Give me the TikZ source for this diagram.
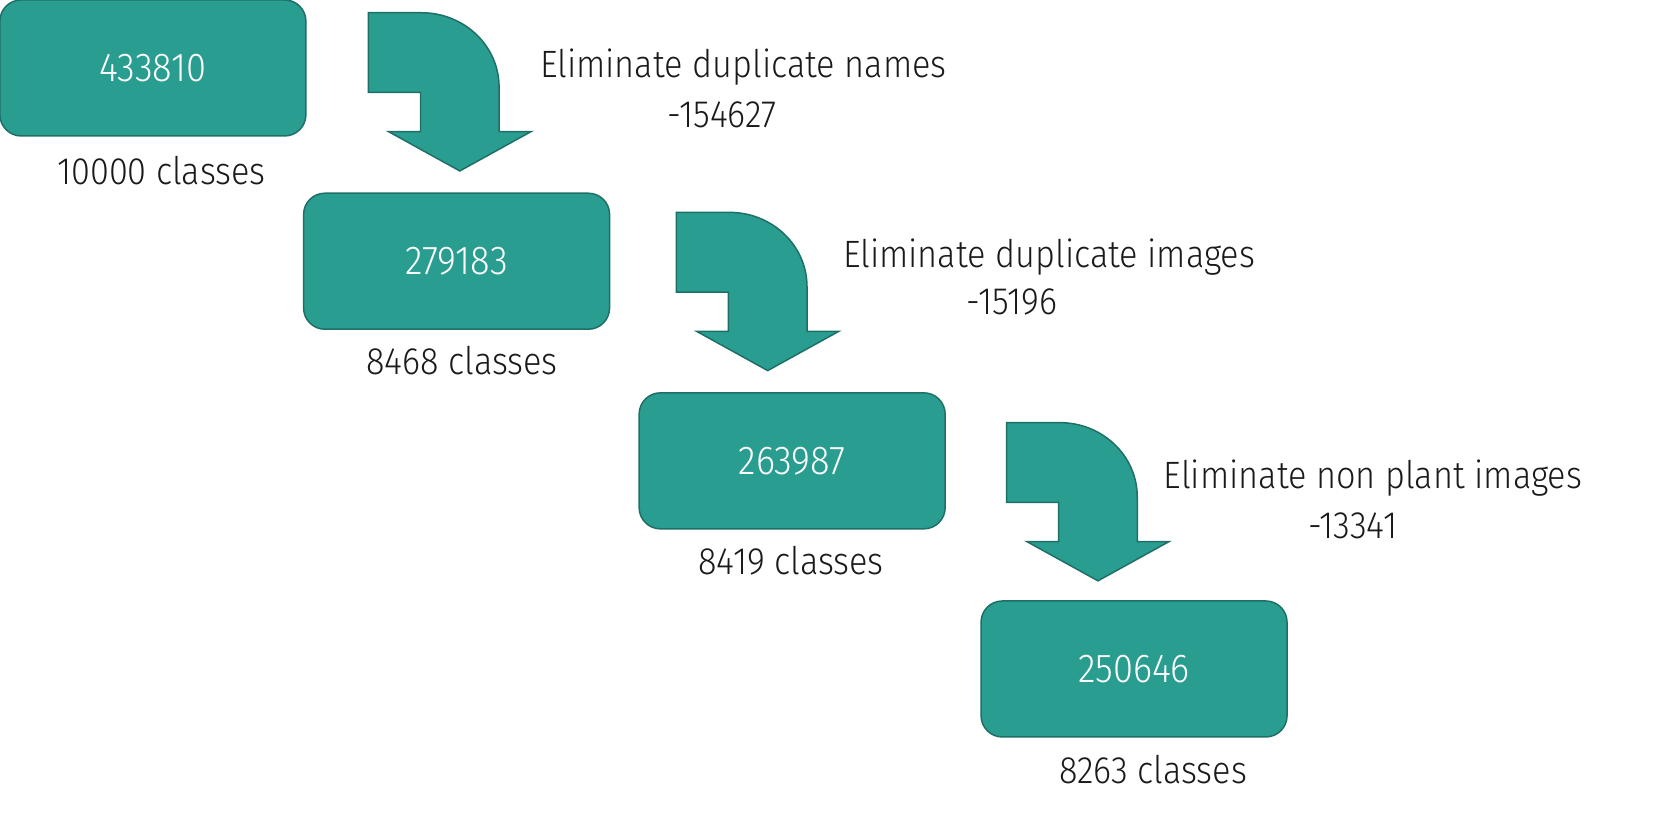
\documentclass[tikz,border=0pt]{standalone}
\usepackage{fontspec}
\setmainfont{Fira Sans Light}[FakeStretch=0.9]
\definecolor{tealfill}{HTML}{2A9D91}
\definecolor{tealline}{HTML}{1E6F66}
\definecolor{txtgray}{HTML}{1A1A1A}

\tikzset{
  countbox/.style={shape=rectangle,draw=tealline,fill=tealfill,thin,
    rounded corners=0.2cm,minimum width=2.88cm,minimum height=1.28cm,
    text=white,font=\fontsize{10.8}{12}\selectfont},
  caption/.style={text=txtgray,font=\fontsize{10.2}{12}\selectfont,inner sep=0pt},
  bentarrow/.pic={
    \draw[draw=tealline,fill=tealfill,thin]
      (0,0) -- (50,0) .. controls (90,0) and (123,31) .. (123,70)
      -- (123,112) -- (153,112) -- (86,149) -- (19,112) -- (49,112)
      -- (49,75) -- (0,75) -- cycle;
  }
}

\begin{document}
\begin{tikzpicture}[x=0.01cm,y=-0.01cm]
        \useasboundingbox (0,0) rectangle (1568,770);
        % counts
        \node[countbox] (n1) at (144,64) {433810};
        \node[countbox] (n2) at (430,246) {279183};
        \node[countbox] (n3) at (746,434) {263987};
        \node[countbox] (n4) at (1068,630) {250646};
        %%
        \node[caption] (c1) at (152,161) {10000 classes};
        \node[caption] (c2) at (435,340) {8468 classes};
        \node[caption] (c3) at (745,528) {8419 classes};
        \node[caption] (c4) at (1086,725) {8263 classes};
        % filtering steps
        \pic at (347,12) {bentarrow};
        \pic at (637,200) {bentarrow};
        \pic at (948,398) {bentarrow};
        \node[caption] (s1) at (700,63) {Eliminate duplicate names};
        \node[caption] (d1) at (680,108) {-154627};
        \node[caption] (s2) at (988,242) {Eliminate duplicate images};
        \node[caption] (d2) at (953,284) {-15196};
        \node[caption] (s3) at (1293,450) {Eliminate non plant images};
        \node[caption] (d3) at (1274,495) {-13341};
\end{tikzpicture}
\end{document}
